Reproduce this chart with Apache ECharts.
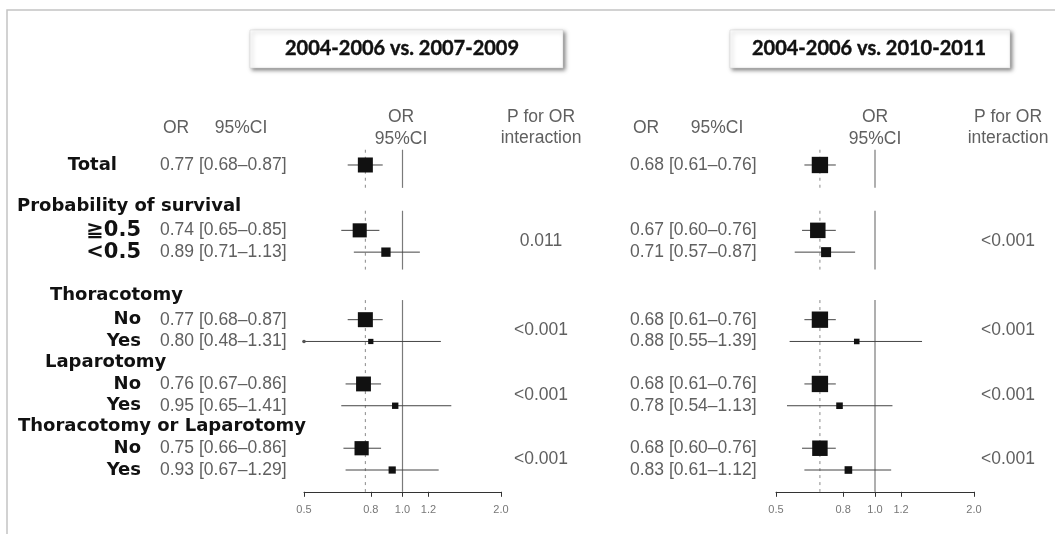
<!DOCTYPE html>
<html>
<head>
<meta charset="utf-8">
<script src="https://cdn.jsdelivr.net/npm/echarts@6/dist/echarts.min.js"></script>
<style>
  html, body { margin: 0; padding: 0; background: #fff; }
  #chart { width: 1055px; height: 534px; }
</style>
</head>
<body>
<div id="chart"></div>
<script>
// Subgroup rows (in drawing order)
const categories = ['Total', '≧0.5', '<0.5', 'No', 'Yes', 'No', 'Yes', 'No', 'Yes'];
const groups = ['Probability of survival', 'Thoracotomy', 'Laparotomy', 'Thoracotomy or Laparotomy'];

// 2004-2006 vs. 2007-2009
const orA = [0.77, 0.74, 0.89, 0.77, 0.80, 0.76, 0.95, 0.75, 0.93];
const loA = [0.68, 0.65, 0.71, 0.68, 0.48, 0.67, 0.65, 0.66, 0.67];
const hiA = [0.87, 0.85, 1.13, 0.87, 1.31, 0.86, 1.41, 0.86, 1.29];
const pA = ['0.011', '<0.001', '<0.001', '<0.001'];

// 2004-2006 vs. 2010-2011
const orB = [0.68, 0.67, 0.71, 0.68, 0.88, 0.68, 0.78, 0.68, 0.83];
const loB = [0.61, 0.60, 0.57, 0.61, 0.55, 0.61, 0.54, 0.60, 0.61];
const hiB = [0.76, 0.76, 0.87, 0.76, 1.39, 0.76, 1.13, 0.76, 1.12];
const pB = ['<0.001', '<0.001', '<0.001', '<0.001'];

const axisTicks = [0.5, 0.8, 1.0, 1.2, 2.0];
const titles = ['2004-2006 vs. 2007-2009', '2004-2006 vs. 2010-2011'];

// ---- layout ----
const rowSlot = [0, 3, 4, 7.1, 8.1, 10.05, 11.05, 13, 14]; // vertical slot of each subgroup row
const groupSlot = [1.9, 6, 9.05, 12];                       // slot of each group heading
const groupRows = [[1, 2], [3, 4], [5, 6], [7, 8]];         // rows belonging to each group
const refSpans = [[-0.7, 1.05], [2.1, 4.8], [6.2, 15]];     // extent of reference lines
const X_MIN = 0.5, X_MAX = 2.0;

const GRAY = '#606060';
const TXT_FONT = '17.5px "Liberation Sans", Arial, sans-serif';
const LBL_FONT = 'bold 18px "DejaVu Sans", Verdana, sans-serif';
const LBL_FONT_BIG = 'bold 21px "DejaVu Sans", Verdana, sans-serif';

// box side grows with precision (narrower CI -> larger box)
function boxSize(lo, hi) {
  const w = Math.log(hi / lo);
  return Math.min(17, 5.25 * Math.pow(w, -0.75));
}

function forestRender(orArr, loArr, hiArr, valueX, withLabels) {
  return function (params, api) {
    const i = api.value(0);
    const slot = api.value(1);
    const lo = loArr[i], hi = hiArr[i], or = orArr[i];
    const y = api.coord([1, slot])[1];
    const x0 = api.coord([Math.max(lo, X_MIN), slot])[0];
    const x1 = api.coord([Math.min(hi, X_MAX), slot])[0];
    const xc = api.coord([or, slot])[0];
    const s = boxSize(lo, hi);
    const children = [
      { type: 'line', shape: { x1: x0, y1: y, x2: x1, y2: y },
        style: { stroke: '#444', lineWidth: 1 } },
      { type: 'rect', shape: { x: xc - s / 2, y: y - s / 2, width: s, height: s },
        style: { fill: '#111' } },
      { type: 'text', style: {
          text: or.toFixed(2) + ' [' + lo.toFixed(2) + '\u2013' + hi.toFixed(2) + ']',
          x: valueX, y: y, font: TXT_FONT, fill: GRAY, align: 'left', verticalAlign: 'middle' } }
    ];
    if (lo < X_MIN) {
      children.push({ type: 'circle', shape: { cx: x0, cy: y, r: 1.8 }, style: { fill: '#555' } });
    }
    if (withLabels) {
      const isTotal = i === 0;
      const big = categories[i].indexOf('0.5') >= 0;
      children.push({ type: 'text', style: {
        text: categories[i], x: isTotal ? 117 : 141, y: y,
        font: big ? LBL_FONT_BIG : LBL_FONT, fill: '#111', align: 'right', verticalAlign: 'middle' } });
    }
    return { type: 'group', children: children };
  };
}

// vertical reference lines: solid at OR = 1, dashed at the overall OR
function refRender(totalOr) {
  return function (params, api) {
    const a = api.value(0), b = api.value(1);
    const top = api.coord([1, a])[1], bot = api.coord([1, b])[1];
    const x1 = api.coord([1, a])[0];
    const xt = api.coord([totalOr, a])[0];
    return { type: 'group', children: [
      { type: 'line', shape: { x1: x1, y1: top, x2: x1, y2: bot },
        style: { stroke: '#7a7a7a', lineWidth: 1.2 } },
      { type: 'line', shape: { x1: xt, y1: top, x2: xt, y2: bot },
        style: { stroke: '#8a8a8a', lineWidth: 1, lineDash: [3, 4] } }
    ] };
  };
}

function pRender(pArr, x) {
  return function (params, api) {
    const g = api.value(0);
    const rows = groupRows[g];
    const slot = (rowSlot[rows[0]] + rowSlot[rows[1]]) / 2;
    const y = api.coord([1, slot])[1];
    return { type: 'text', style: { text: pArr[g], x: x, y: y, font: TXT_FONT,
      fill: GRAY, align: 'center', verticalAlign: 'middle' } };
  };
}

function groupRender(params, api) {
  const g = api.value(0);
  const y = api.coord([1, groupSlot[g]])[1];
  const xs = [17, 50, 45, 18];
  return { type: 'text', style: { text: groups[g], x: xs[g], y: y, font: LBL_FONT,
    fill: '#111', align: 'left', verticalAlign: 'middle' } };
}

const rowData = categories.map((c, i) => [i, rowSlot[i]]);
const spanData = refSpans.map(s => [s[0], s[1]]);
const groupData = groups.map((g, i) => [i, groupSlot[i]]);

function xAxisFor(gridIndex) {
  return {
    type: 'log', logBase: 10, gridIndex: gridIndex, min: X_MIN, max: X_MAX,
    position: 'bottom',
    axisLine: { show: true, onZero: false, lineStyle: { color: '#333', width: 1 } },
    axisTick: { show: true, inside: false, length: 5, customValues: axisTicks,
      lineStyle: { color: '#333' } },
    axisLabel: { customValues: axisTicks, color: '#777', fontSize: 11,
      fontFamily: '"Liberation Sans", Arial, sans-serif', margin: 13,
      formatter: v => Number(v).toFixed(1) },
    splitLine: { show: false }
  };
}
function yAxisFor(gridIndex) {
  return { type: 'value', gridIndex: gridIndex, inverse: true, min: -1, max: 15, show: false };
}

function headerTexts(orX, ciX, forestX, pX) {
  const t = (text, x, y) => ({ type: 'text', x: x, y: y,
    style: { text: text, font: TXT_FONT, fill: GRAY, align: 'center', verticalAlign: 'middle' } });
  return [
    t('OR', orX, 128), t('95%CI', ciX, 128),
    t('OR', forestX, 117), t('95%CI', forestX, 139),
    t('P for OR', pX, 117), t('interaction', pX, 138)
  ];
}

function titleBox(text, x, w, cx) {
  return [
    { type: 'rect', shape: { x: x, y: 30, width: w, height: 38 },
      style: { fill: '#fff', stroke: '#d0d0d0', lineWidth: 0.5,
        shadowColor: 'rgba(0,0,0,0.5)', shadowBlur: 4, shadowOffsetX: 2, shadowOffsetY: 2 } },
    { type: 'text', x: cx, y: 49,
      style: { text: text, font: 'bold 20px Lato, "Open Sans", sans-serif', fill: '#111',
        stroke: '#111', lineWidth: 0.4, align: 'center', verticalAlign: 'middle' } }
  ];
}

const chart = echarts.init(document.getElementById('chart'), null, { renderer: 'canvas' });
chart.setOption({
  animation: false,
  backgroundColor: '#fff',
  grid: [
    { left: 304, width: 197, top: 143.2, height: 348.6 },
    { left: 776, width: 198, top: 143.2, height: 348.6 }
  ],
  xAxis: [xAxisFor(0), xAxisFor(1)],
  yAxis: [yAxisFor(0), yAxisFor(1)],
  graphic: [
    { type: 'rect', shape: { x: 7, y: 10, width: 1100, height: 600 },
      style: { fill: 'none', stroke: '#c4c4c4', lineWidth: 1.5 }, z: -1 },
    ...titleBox(titles[0], 250, 313, 402),
    ...titleBox(titles[1], 730, 280, 869),
    ...headerTexts(176, 241, 401, 541),
    ...headerTexts(646, 717, 875, 1008)
  ],
  series: [
    { type: 'custom', xAxisIndex: 0, yAxisIndex: 0, renderItem: refRender(orA[0]), data: spanData, z: 1 },
    { type: 'custom', xAxisIndex: 1, yAxisIndex: 1, renderItem: refRender(orB[0]), data: spanData, z: 1 },
    { type: 'custom', xAxisIndex: 0, yAxisIndex: 0, renderItem: forestRender(orA, loA, hiA, 160, true), data: rowData, z: 2 },
    { type: 'custom', xAxisIndex: 1, yAxisIndex: 1, renderItem: forestRender(orB, loB, hiB, 630, false), data: rowData, z: 2 },
    { type: 'custom', xAxisIndex: 0, yAxisIndex: 0, renderItem: groupRender, data: groupData, z: 2 },
    { type: 'custom', xAxisIndex: 0, yAxisIndex: 0, renderItem: pRender(pA, 541), data: groups.map((g, i) => [i, 0]), z: 2 },
    { type: 'custom', xAxisIndex: 1, yAxisIndex: 1, renderItem: pRender(pB, 1008), data: groups.map((g, i) => [i, 0]), z: 2 }
  ]
});
</script>
</body>
</html>
